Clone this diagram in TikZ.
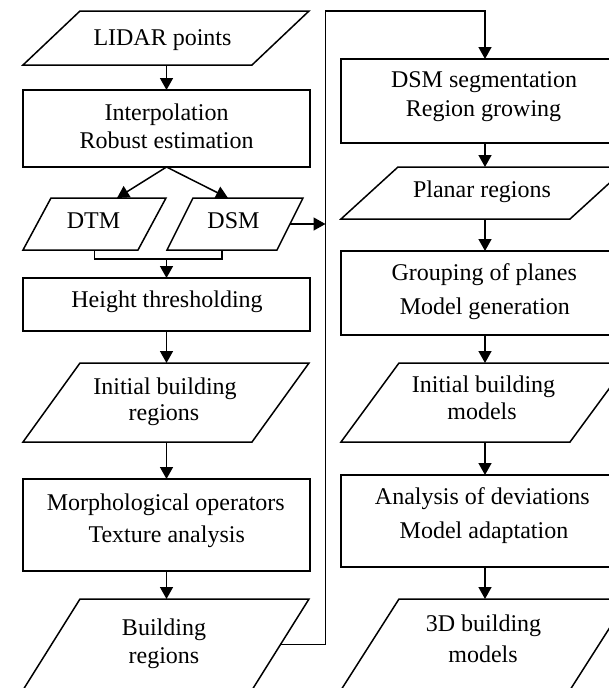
\documentclass[tikz,border=0pt]{standalone}
\usepackage{fontspec}
\setmainfont{Liberation Serif}
\usetikzlibrary{arrows.meta,calc}
\newcommand\parabox[6]{% name, bottom-left x, top y, body width, height, slant offset
  \node[frame,minimum width=#4+#6,minimum height=#5] (#1) at (#2,#3) {};
  \draw[conn] (#1.south west) -- ++(#4,0) -- (#1.north east) -- ++(-#4,0) -- cycle;
  \coordinate (#1R) at ($(#1.center)+(#4/2,0)$);
}
\begin{document}
\begin{tikzpicture}[x=1pt,y=-1pt,
  conn/.style={line width=1.5pt,line join=miter},
  arr/.style={conn,-{Triangle[width=13pt,length=12pt]}},
  stepbox/.style={draw,line width=1.5pt,inner sep=0pt,outer sep=0pt,anchor=north west},
  frame/.style={inner sep=0pt,outer sep=0pt,anchor=north west},
  txt/.style={anchor=base,inner sep=0pt,font=\fontsize{24}{28}\selectfont}]
\useasboundingbox (0,0) rectangle (608,688);
% ---------- left column
\parabox{lidar}{23}{11}{229}{54}{57}
\node[stepbox,minimum width=287,minimum height=77] (interp) at (23,90) {};
\parabox{dtm}{23}{198}{115}{52}{28}
\parabox{dsm}{167}{198}{110}{52}{26}
\node[stepbox,minimum width=287,minimum height=53] (height) at (23,278) {};
\parabox{ibr}{23}{363}{229}{79}{57}
\node[stepbox,minimum width=287,minimum height=92] (morph) at (23,479) {};
\parabox{br}{23}{599}{229}{91}{57}
% ---------- right column
\node[stepbox,minimum width=288,minimum height=84] (dsmseg) at (341,59) {};
\parabox{planar}{341}{167}{229}{52}{57}
\node[stepbox,minimum width=288,minimum height=84] (group) at (341,251) {};
\parabox{ibm}{341}{363}{229}{79}{58}
\node[stepbox,minimum width=288,minimum height=92] (ana) at (341,475) {};
\parabox{tdm}{341}{599}{229}{91}{58}
% ---------- texts
\node[txt] (lidarT) at (162.5,45) {LIDAR points};
\node[txt] (interpT1) at (166.5,120.7) {Interpolation};
\node[txt] (interpT2) at (166.5,148.3) {Robust estimation};
\node[txt] (dtmT) at (93.5,228.5) {DTM};
\node[txt] (dsmT) at (233.5,228.5) {DSM};
\node[txt] (heightT) at (167,307.3) {Height thresholding};
\node[txt] (ibrT1) at (165,394) {Initial building};
\node[txt] (ibrT2) at (164,420.7) {regions};
\node[txt] (morphT1) at (165.8,510) {Morphological operators};
\node[txt] (morphT2) at (166.7,542) {Texture analysis};
\node[txt] (brT1) at (164,635) {Building};
\node[txt] (brT2) at (164,663) {regions};
\node[txt] (dsmsegT1) at (484,87.3) {DSM segmentation};
\node[txt] (dsmsegT2) at (483.5,116.7) {Region growing};
\node[txt] (planarT) at (482,197.3) {Planar regions};
\node[txt] (groupT1) at (484.3,280) {Grouping of planes};
\node[txt] (groupT2) at (484.8,314) {Model generation};
\node[txt] (ibmT1) at (483.5,392.3) {Initial building};
\node[txt] (ibmT2) at (482,419.3) {models};
\node[txt] (anaT1) at (482.3,504.3) {Analysis of deviations};
\node[txt] (anaT2) at (484,538.3) {Model adaptation};
\node[txt] (tdmT1) at (483.5,631.7) {3D building};
\node[txt] (tdmT2) at (483,662.7) {models};
% ---------- connectors
\draw[arr] (interp.north |- lidar.south) -- (interp.north);
\draw[arr] (interp.south) -- ([xshift=22.5pt]dtm.north);
\draw[arr] (interp.south) -- ([xshift=-7pt]dsm.north);
\draw[conn] (dtm.south) -- ++(0,9) coordinate (join) -| ([xshift=-13pt]dsm.south);
\draw[arr] (join -| height.north) -- (height.north);
\draw[arr] (height.south) -- (height.south |- ibr.north);
\draw[arr] (morph.north |- ibr.south) -- (morph.north);
\draw[arr] (morph.south) -- (morph.south |- br.north);
\coordinate (c1) at (325.5,11);
\draw[arr] (brR) -| (c1) -| (dsmseg.north);
\draw[arr] (dsmR) -- (dsmR -| c1);
\draw[arr] (dsmseg.south) -- (dsmseg.south |- planar.north);
\draw[arr] (group.north |- planar.south) -- (group.north);
\draw[arr] (group.south) -- (group.south |- ibm.north);
\draw[arr] (ana.north |- ibm.south) -- (ana.north);
\draw[arr] (ana.south) -- (ana.south |- tdm.north);
\end{tikzpicture}
\end{document}
